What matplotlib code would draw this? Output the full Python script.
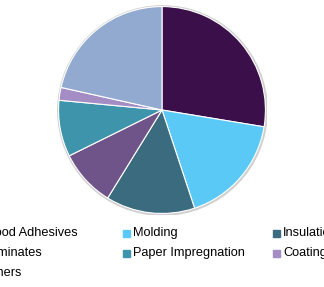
import matplotlib.pyplot as plt
from matplotlib.patches import Circle, Rectangle

plt.rcParams['font.family'] = ['Liberation Sans', 'DejaVu Sans']

# segment shares (%), clockwise from 12 o'clock
labels = ["Wood Adhesives", "Molding", "Insulation", "Laminates",
          "Paper Impregnation", "Coatings", "Others"]
shares = [27.6, 17.3, 13.9, 8.9, 8.8, 2.0, 21.5]
colors = ["#3a0f4a", "#5bc9f6", "#3a6b7f", "#6f548a",
          "#3e94ab", "#a38dc4", "#92a9d0"]

W, H = 324, 287
fig = plt.figure(figsize=(W / 100, H / 100), dpi=100)

# pie axes: center (162, 110) px from top, radius ~105 px
cx, cy, r = 162, 110, 105
ax = fig.add_axes([(cx - r) / W, (H - cy - r) / H, 2 * r / W, 2 * r / H])
ax.add_patch(Circle((0.005, -0.005), 1.012, color="#d0d0d0", zorder=0))
ax.pie(shares, colors=colors, startangle=90, counterclock=False,
       wedgeprops=dict(edgecolor="white", linewidth=0.8), radius=1.0)
ax.set_xlim(-1.015, 1.015)
ax.set_ylim(-1.015, 1.015)
ax.set_aspect("equal")
ax.axis("off")

# legend laid out in fixed-width columns, like the original
x0, y0 = -27, 233   # marker left edge / row centre, px
col_w, row_h = 150, 20
for i, (lab, c) in enumerate(zip(labels, colors)):
    col, row = i % 3, i // 3
    x = x0 + col * col_w
    y = y0 + row * row_h
    fig.patches.append(Rectangle((x / W, (H - y - 3.5) / H), 7 / W, 7 / H,
                                 transform=fig.transFigure, color=c))
    fig.text((x + 10) / W, (H - y) / H, lab, fontsize=9.2, color="#000000",
             va="center", ha="left")

fig.savefig("out.png", dpi=100)
